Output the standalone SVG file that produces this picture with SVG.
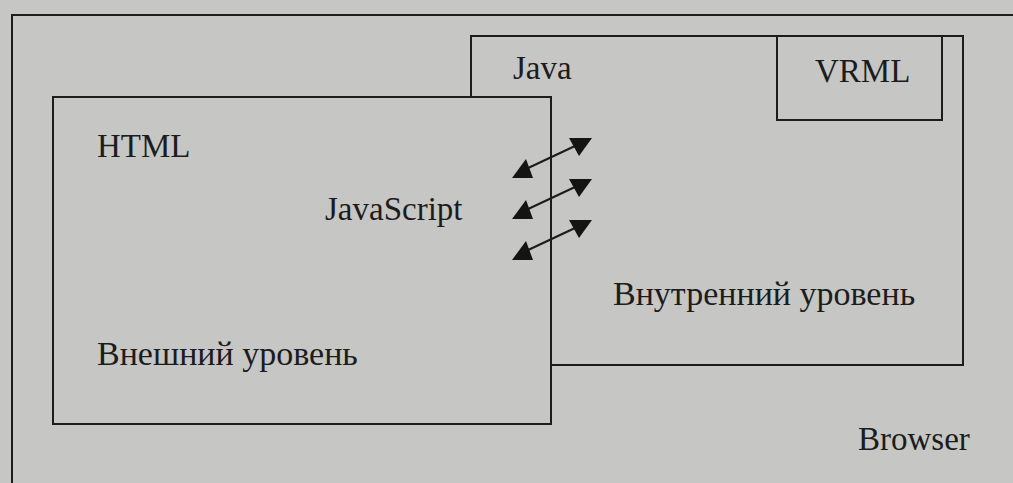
<svg xmlns="http://www.w3.org/2000/svg" width="1013" height="483" viewBox="0 0 1013 483">
<style>
.bg{fill:#c6c6c4}
.box{fill:#c6c6c4;stroke:#1c1c1c;stroke-width:2}
.ln{fill:none;stroke:#1c1c1c;stroke-width:2}
.t{font-family:"Liberation Serif","Times New Roman",serif;font-size:33px;fill:#1c1c1c}
.ru{font-size:34px}
.arr{stroke:#1c1c1c;stroke-width:2;fill:none}
.hd{fill:#141414}
</style>
<rect class="bg" x="0" y="0" width="1013" height="483"/>
<g id="browser">
  <path class="ln" d="M12,483 L12,15 L1013,15"/>
  <text class="t" x="858" y="450">Browser</text>
</g>
<g id="inner">
  <rect class="box" x="471" y="36" width="492" height="329"/>
  <text class="t" x="513" y="79">Java</text>
  <text class="t ru" x="613" y="305">Внутренний уровень</text>
</g>
<g id="vrml">
  <rect class="box" x="777" y="36" width="165" height="84"/>
  <text class="t" x="815" y="82">VRML</text>
</g>
<g id="outer">
  <rect class="box" x="53" y="97" width="498" height="327"/>
  <text class="t" x="97" y="157">HTML</text>
  <text class="t" x="325" y="220">JavaScript</text>
  <text class="t ru" x="97" y="365">Внешний уровень</text>
</g>
<g id="connectors">
  <g>
    <line class="arr" x1="526" y1="169" x2="575" y2="146"/>
    <polygon class="hd" points="569,138 592,138 579,156"/>
    <polygon class="hd" points="512,178 533,178 526,159"/>
  </g>
  <g transform="translate(0,41)">
    <line class="arr" x1="526" y1="169" x2="575" y2="146"/>
    <polygon class="hd" points="569,138 592,138 579,156"/>
    <polygon class="hd" points="512,178 533,178 526,159"/>
  </g>
  <g transform="translate(0,82)">
    <line class="arr" x1="526" y1="169" x2="575" y2="146"/>
    <polygon class="hd" points="569,138 592,138 579,156"/>
    <polygon class="hd" points="512,178 533,178 526,159"/>
  </g>
</g>
</svg>
